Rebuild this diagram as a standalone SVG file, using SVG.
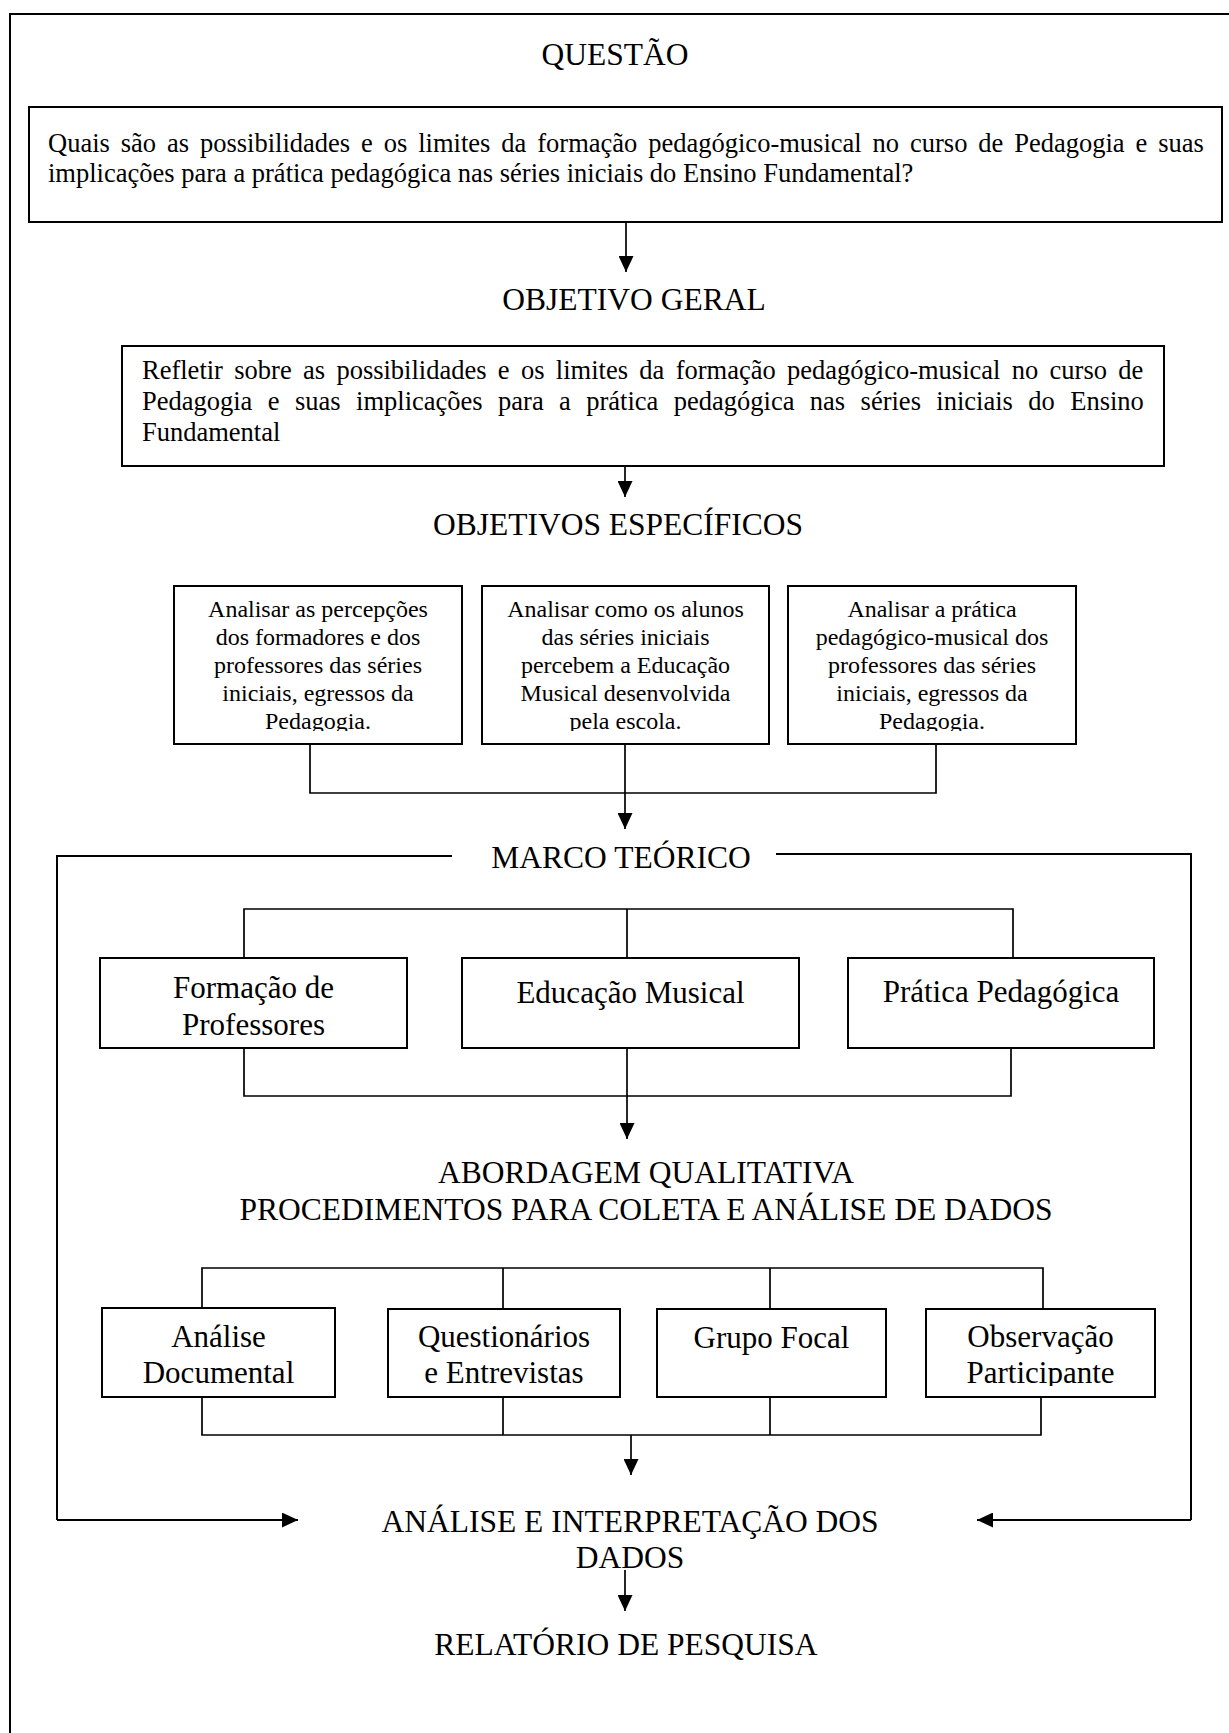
<svg xmlns="http://www.w3.org/2000/svg" width="1229" height="1733" viewBox="0 0 1229 1733">
<style>
  .bg{fill:#ffffff}
  .box{fill:#ffffff;stroke:#000;stroke-width:2}
  .ln{fill:none;stroke:#000;stroke-width:1.7}
  .h{font-family:"Liberation Serif","Times New Roman",serif;font-size:31.5px;fill:#000;text-anchor:middle}
  .p{font-family:"Liberation Serif","Times New Roman",serif;font-size:26.5px;fill:#000}
  .pc{font-family:"Liberation Serif","Times New Roman",serif;font-size:24px;fill:#000;text-anchor:middle}
  .b{font-family:"Liberation Serif","Times New Roman",serif;font-size:31px;fill:#000;text-anchor:middle}
</style>
<defs>
  <marker id="arr" markerUnits="userSpaceOnUse" markerWidth="16" markerHeight="15" refX="16" refY="7.5" orient="auto">
    <path d="M0,0 L16,7.5 L0,15 z" fill="#000"/>
  </marker>
  <clipPath id="clipSpec"><rect x="0" y="0" width="1229" height="731"/></clipPath>
  <clipPath id="clipMeth"><rect x="0" y="0" width="1229" height="1386"/></clipPath>
</defs>
<rect class="bg" x="0" y="0" width="1229" height="1733"/>

<g id="frame">
  <path class="ln" d="M10,1740 V14 H1235" style="stroke-width:2"/>
</g>

<g id="questao">
  <text class="h" x="615" y="65">QUESTÃO</text>
</g>
<g id="question-box">
  <rect class="box" x="29" y="107" width="1193" height="115"/>
  <text class="p" x="48" y="152" style="word-spacing:4.3px">Quais são as possibilidades e os limites da formação pedagógico-musical no curso de Pedagogia e suas</text>
  <text class="p" x="48" y="182">implicações para a prática pedagógica nas séries iniciais do Ensino Fundamental?</text>
</g>

<g id="objetivo-geral">
  <text class="h" x="634" y="310">OBJETIVO GERAL</text>
</g>
<g id="objetivo-box">
  <rect class="box" x="122" y="346" width="1042" height="120"/>
  <text class="p" x="142" y="379" style="word-spacing:4.7px">Refletir sobre as possibilidades e os limites da formação pedagógico-musical no curso de</text>
  <text class="p" x="142" y="410" style="word-spacing:8.8px">Pedagogia e suas implicações para a prática pedagógica nas séries iniciais do Ensino</text>
  <text class="p" x="142" y="441">Fundamental</text>
</g>

<g id="objetivos-especificos">
  <text class="h" x="618" y="535">OBJETIVOS ESPECÍFICOS</text>
</g>
<g id="espec-1">
  <rect class="box" x="174" y="586" width="288" height="158"/>
  <g clip-path="url(#clipSpec)">
    <text class="pc" x="318" y="617">Analisar as percepções</text>
    <text class="pc" x="318" y="645">dos formadores e dos</text>
    <text class="pc" x="318" y="673">professores das séries</text>
    <text class="pc" x="318" y="701">iniciais, egressos da</text>
    <text class="pc" x="318" y="729">Pedagogia.</text>
  </g>
</g>
<g id="espec-2">
  <rect class="box" x="482" y="586" width="287" height="158"/>
  <g clip-path="url(#clipSpec)">
    <text class="pc" x="625.5" y="617">Analisar como os alunos</text>
    <text class="pc" x="625.5" y="645">das séries iniciais</text>
    <text class="pc" x="625.5" y="673">percebem a Educação</text>
    <text class="pc" x="625.5" y="701">Musical desenvolvida</text>
    <text class="pc" x="625.5" y="729">pela escola.</text>
  </g>
</g>
<g id="espec-3">
  <rect class="box" x="788" y="586" width="288" height="158"/>
  <g clip-path="url(#clipSpec)">
    <text class="pc" x="932" y="617">Analisar a prática</text>
    <text class="pc" x="932" y="645">pedagógico-musical dos</text>
    <text class="pc" x="932" y="673">professores das séries</text>
    <text class="pc" x="932" y="701">iniciais, egressos da</text>
    <text class="pc" x="932" y="729">Pedagogia.</text>
  </g>
</g>

<g id="marco-teorico">
  <text class="h" x="621" y="868">MARCO TEÓRICO</text>
</g>
<g id="teoria-1">
  <rect class="box" x="100" y="958" width="307" height="90"/>
  <text class="b" x="253.5" y="998">Formação de</text>
  <text class="b" x="253.5" y="1035">Professores</text>
</g>
<g id="teoria-2">
  <rect class="box" x="462" y="958" width="337" height="90"/>
  <text class="b" x="630.5" y="1003">Educação Musical</text>
</g>
<g id="teoria-3">
  <rect class="box" x="848" y="958" width="306" height="90"/>
  <text class="b" x="1001" y="1002">Prática Pedagógica</text>
</g>

<g id="abordagem">
  <text class="h" x="646" y="1183">ABORDAGEM QUALITATIVA</text>
  <text class="h" x="646" y="1220">PROCEDIMENTOS PARA COLETA E ANÁLISE DE DADOS</text>
</g>
<g id="metodo-1">
  <rect class="box" x="102" y="1308" width="233" height="89"/>
  <g clip-path="url(#clipMeth)">
    <text class="b" x="218.5" y="1347">Análise</text>
    <text class="b" x="218.5" y="1383">Documental</text>
  </g>
</g>
<g id="metodo-2">
  <rect class="box" x="388" y="1309" width="232" height="88"/>
  <g clip-path="url(#clipMeth)">
    <text class="b" x="504" y="1347">Questionários</text>
    <text class="b" x="504" y="1383">e Entrevistas</text>
  </g>
</g>
<g id="metodo-3">
  <rect class="box" x="657" y="1309" width="229" height="88"/>
  <text class="b" x="771.5" y="1348">Grupo Focal</text>
</g>
<g id="metodo-4">
  <rect class="box" x="926" y="1309" width="229" height="88"/>
  <g clip-path="url(#clipMeth)">
    <text class="b" x="1040.5" y="1347">Observação</text>
    <text class="b" x="1040.5" y="1383">Participante</text>
  </g>
</g>

<g id="analise">
  <text class="h" x="630" y="1532">ANÁLISE E INTERPRETAÇÃO DOS</text>
  <text class="h" x="630" y="1568">DADOS</text>
</g>
<g id="relatorio">
  <text class="h" x="626" y="1655">RELATÓRIO DE PESQUISA</text>
</g>

<g id="connectors">
  <line class="ln" x1="626" y1="222" x2="626" y2="272" marker-end="url(#arr)"/>
  <line class="ln" x1="625" y1="466" x2="625" y2="497" marker-end="url(#arr)"/>
  <path class="ln" d="M310,744 V793 H936 V744"/>
  <line class="ln" x1="625" y1="744" x2="625" y2="829" marker-end="url(#arr)"/>
  <path class="ln" d="M452,856 H57 V1520" style="stroke-width:2"/>
  <line class="ln" x1="57" y1="1520" x2="298" y2="1520" marker-end="url(#arr)" style="stroke-width:2"/>
  <path class="ln" d="M776,854 H1191 V1520" style="stroke-width:2"/>
  <line class="ln" x1="1191" y1="1520" x2="977" y2="1520" marker-end="url(#arr)" style="stroke-width:2"/>
  <path class="ln" d="M244,958 V909 H1013 V958 M627,909 V958"/>
  <path class="ln" d="M244,1048 V1096 H1011 V1048"/>
  <line class="ln" x1="627" y1="1048" x2="627" y2="1139" marker-end="url(#arr)"/>
  <path class="ln" d="M202,1308 V1268 H1043 V1309 M503,1268 V1309 M770,1268 V1309"/>
  <path class="ln" d="M202,1397 V1435 H1041 V1397 M503,1397 V1435 M770,1397 V1435"/>
  <line class="ln" x1="631" y1="1435" x2="631" y2="1475" marker-end="url(#arr)"/>
  <line class="ln" x1="625" y1="1570" x2="625" y2="1611" marker-end="url(#arr)"/>
</g>
</svg>
